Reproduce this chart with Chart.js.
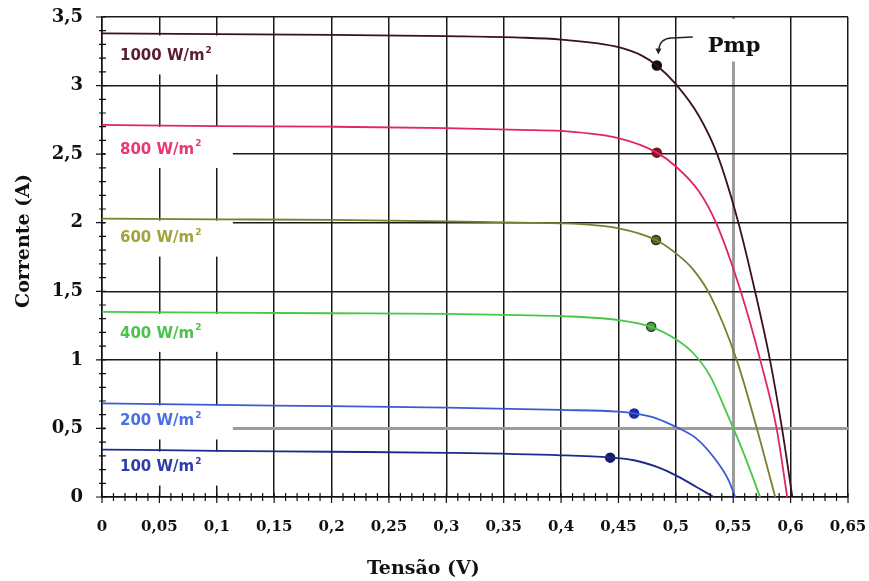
<!DOCTYPE html>
<html>
<head>
<meta charset="utf-8">
<title>Curvas I-V</title>
<script src="https://cdn.jsdelivr.net/npm/chart.js"></script>
<style>
    body { margin: 0; background: #fff; }
    #box { width: 869px; height: 581px; }
</style>
</head>
<body>
<div id="box"><canvas id="grafico"></canvas></div>
<script>
// curvas corrente x tensão do módulo para cada irradiância
var irradiancias = ['1000', '800', '600', '400', '200', '100'];

var tensao1000 = [0, 0.1, 0.2, 0.3, 0.364, 0.4, 0.45, 0.47, 0.4834, 0.5, 0.52, 0.536, 0.5545, 0.569, 0.582, 0.5925, 0.6015];
var corrente1000 = [3.38, 3.375, 3.37, 3.36, 3.35, 3.335, 3.28, 3.22, 3.146, 3.01, 2.78, 2.5, 2.0, 1.5, 1.0, 0.5, 0];

var tensao800 = [0, 0.1, 0.2, 0.3, 0.364, 0.4, 0.45, 0.4834, 0.5, 0.52, 0.535, 0.5565, 0.5735, 0.5878, 0.597];
var corrente800 = [2.713, 2.705, 2.7, 2.69, 2.677, 2.669, 2.616, 2.511, 2.41, 2.23, 2.0, 1.5, 1.0, 0.5, 0];

var tensao600 = [0, 0.1, 0.2, 0.3, 0.364, 0.4, 0.45, 0.4827, 0.5, 0.515, 0.53, 0.553, 0.5706, 0.5866];
var corrente600 = [2.03, 2.025, 2.02, 2.01, 2.0, 1.996, 1.959, 1.874, 1.777, 1.66, 1.47, 1.0, 0.5, 0];

var tensao400 = [0, 0.1, 0.2, 0.3, 0.364, 0.4, 0.45, 0.4785, 0.5, 0.515, 0.53, 0.545, 0.56, 0.5734];
var corrente400 = [1.35, 1.345, 1.34, 1.335, 1.326, 1.319, 1.29, 1.241, 1.15, 1.05, 0.88, 0.6, 0.3, 0];

var tensao200 = [0, 0.1, 0.2, 0.3, 0.4, 0.45, 0.4637, 0.4835, 0.5, 0.518, 0.535, 0.546, 0.5517];
var corrente200 = [0.682, 0.672, 0.662, 0.652, 0.635, 0.622, 0.609, 0.572, 0.511, 0.426, 0.268, 0.122, 0];

var tensao100 = [0, 0.1, 0.2, 0.3, 0.4, 0.4428, 0.4635, 0.4835, 0.5, 0.518, 0.533];
var corrente100 = [0.346, 0.337, 0.33, 0.322, 0.304, 0.287, 0.268, 0.219, 0.158, 0.073, 0];

// ponto de máxima potência de cada curva
var pmpTensao = [0.4834, 0.4834, 0.4827, 0.4785, 0.4637, 0.4428];
var pmpCorrente = [3.146, 2.511, 1.874, 1.241, 0.609, 0.287];

var curvas = [
    [tensao1000, corrente1000],
    [tensao800, corrente800],
    [tensao600, corrente600],
    [tensao400, corrente400],
    [tensao200, corrente200],
    [tensao100, corrente100]
];

var coresCurvas = ['#3d0f22', '#e2255f', '#7d7d2e', '#45c845', '#3a5bd2', '#1c2a8c'];
var coresRotulos = ['#5c1b35', '#e8386f', '#a3a33b', '#4cc24c', '#4d6fe2', '#2e3ca9'];
var coresPmp = ['#140810', '#8e1426', '#4d6a2a', '#5a9a4a', '#1a2ca6', '#141c6a'];
var bordasPmp = ['#140810', '#6a0e1c', '#1f3a14', '#1f4a1f', '#1a2ca6', '#141c6a'];
var deslocRotulos = [23, 25, 20, 22, 18, 18];

var datasets = [];
for (var i = 0; i < curvas.length; i++) {
    var pontos = [];
    for (var j = 0; j < curvas[i][0].length; j++) {
        pontos.push({ x: curvas[i][0][j], y: curvas[i][1][j] });
    }
    datasets.push({
        label: irradiancias[i] + ' W/m²',
        data: pontos,
        borderColor: coresCurvas[i],
        borderWidth: 1.8,
        pointRadius: 0,
        cubicInterpolationMode: 'monotone',
        fill: false
    });
}

var pontosPmp = [];
for (var k = 0; k < pmpTensao.length; k++) {
    pontosPmp.push({ x: pmpTensao[k], y: pmpCorrente[k] });
}
datasets.push({
    type: 'scatter',
    label: 'Pmp',
    data: pontosPmp,
    showLine: false,
    pointRadius: 4.5,
    pointBorderWidth: 1.5,
    pointBackgroundColor: coresPmp,
    pointBorderColor: bordasPmp
});

function virgula(v) {
    return String(v).replace('.', ',');
}

function corGrade(centesimos, cinza, passo) {
    if (centesimos === cinza) return '#9c9c9c';
    return centesimos % passo === 0 ? '#1a1a1a' : 'rgba(0,0,0,0)';
}

function larguraGrade(centesimos, cinza, passo) {
    if (centesimos === cinza) return 3;
    return centesimos % passo === 0 ? 1.5 : 0;
}

var fonteEixo = "'DejaVu Serif', serif";

// caixas brancas atrás dos rótulos, marcas dos eixos, textos e seta do Pmp
var extras = {
    id: 'extras',
    beforeDatasetsDraw: function (chart) {
        var c = chart.ctx, a = chart.chartArea, x = chart.scales.x, y = chart.scales.y;
        c.save();
        c.fillStyle = '#fff';
        for (var i = 0; i < curvas.length; i++) {
            var topo = y.getPixelForValue(curvas[i][1][0]);
            c.fillRect(a.left + 3, topo + 2, x.getPixelForValue(0.114) - a.left - 3, deslocRotulos[i] + 16);
        }
        var px = x.getPixelForValue(pmpTensao[0]), py = y.getPixelForValue(pmpCorrente[0]);
        c.fillRect(px + 42, a.top + 2, 76, py - a.top - 6);
        c.restore();
    },
    afterDatasetsDraw: function (chart) {
        var c = chart.ctx, a = chart.chartArea, x = chart.scales.x, y = chart.scales.y;
        c.save();

        // marcas menores cruzando os eixos
        c.strokeStyle = '#111';
        c.lineWidth = 1.2;
        c.beginPath();
        x.ticks.forEach(function (t) {
            var p = x.getPixelForValue(t.value);
            var maior = Math.round(t.value * 100) % 5 === 0;
            c.moveTo(p, a.bottom - 4);
            c.lineTo(p, a.bottom + (maior ? 6 : 4));
        });
        y.ticks.forEach(function (t) {
            var p = y.getPixelForValue(t.value);
            var maior = Math.round(t.value * 10) % 5 === 0;
            c.moveTo(a.left - (maior ? 6 : 3), p);
            c.lineTo(a.left + 4, p);
        });
        c.stroke();

        // rótulos de irradiância
        c.textBaseline = 'middle';
        c.textAlign = 'left';
        for (var i = 0; i < curvas.length; i++) {
            var ty = y.getPixelForValue(curvas[i][1][0]) + deslocRotulos[i];
            var tx = a.left + 18;
            var texto = irradiancias[i] + ' W/m';
            c.fillStyle = coresRotulos[i];
            c.font = "bold 15px 'DejaVu Sans', sans-serif";
            c.fillText(texto, tx, ty);
            var w = c.measureText(texto).width;
            c.font = "bold 9px 'DejaVu Sans', sans-serif";
            c.fillText('2', tx + w + 1, ty - 6);
        }

        // indicação do ponto de máxima potência
        var px = x.getPixelForValue(pmpTensao[0]), py = y.getPixelForValue(pmpCorrente[0]);
        c.strokeStyle = '#222';
        c.lineWidth = 1.4;
        c.beginPath();
        c.moveTo(px + 36, py - 28.5);
        c.lineTo(px + 15, py - 27.5);
        c.quadraticCurveTo(px + 3, py - 27, px + 2, py - 16);
        c.stroke();
        c.fillStyle = '#222';
        c.beginPath();
        c.moveTo(px + 1.6, py - 11);
        c.lineTo(px - 1.4, py - 17);
        c.lineTo(px + 4.6, py - 17);
        c.closePath();
        c.fill();

        c.fillStyle = '#111';
        c.textBaseline = 'alphabetic';
        c.font = 'bold 21px ' + fonteEixo;
        c.fillText('Pmp', px + 51, py - 13.5);

        // títulos dos eixos
        c.textAlign = 'center';
        c.textBaseline = 'middle';
        c.font = 'bold 19px ' + fonteEixo;
        c.fillText('Tensão (V)', x.getPixelForValue(0.28), a.bottom + 72);
        c.translate(a.left - 78, a.top + 224);
        c.rotate(-Math.PI / 2);
        c.fillText('Corrente (A)', 0, 0);

        c.restore();
    }
};

var chart = new Chart(document.getElementById('grafico'), {
    type: 'line',
    data: { datasets: datasets },
    options: {
        responsive: true,
        maintainAspectRatio: false,
        animation: false,
        layout: { padding: { left: 2, right: 21, top: 17, bottom: 0 } },
        plugins: {
            legend: { display: false },
            tooltip: { enabled: false }
        },
        scales: {
            x: {
                type: 'linear',
                min: 0,
                max: 0.65,
                afterFit: function (s) {
                    s.height = 84;
                    s.paddingLeft = 0;
                    s.paddingRight = 0;
                },
                ticks: {
                    stepSize: 0.01,
                    autoSkip: false,
                    maxRotation: 0,
                    minRotation: 0,
                    padding: 21,
                    color: '#111',
                    font: { family: fonteEixo, weight: 'bold', size: 15 },
                    callback: function (v) {
                        var c = Math.round(v * 100);
                        return c % 5 === 0 ? virgula(c / 100) : '';
                    }
                },
                grid: {
                    drawTicks: false,
                    color: function (ctx) {
                        if (!ctx.tick) return '#1a1a1a';
                        return corGrade(Math.round(ctx.tick.value * 100), 55, 5);
                    },
                    lineWidth: function (ctx) {
                        if (!ctx.tick) return 1.5;
                        return larguraGrade(Math.round(ctx.tick.value * 100), 55, 5);
                    }
                },
                border: { display: true, color: '#111', width: 1.5 }
            },
            y: {
                type: 'linear',
                min: 0,
                max: 3.5,
                afterFit: function (s) {
                    s.width = 100;
                    s.paddingTop = 0;
                    s.paddingBottom = 0;
                },
                ticks: {
                    stepSize: 0.1,
                    autoSkip: false,
                    padding: 19,
                    color: '#111',
                    font: { family: fonteEixo, weight: 'bold', size: 18 },
                    callback: function (v) {
                        var c = Math.round(v * 10);
                        return c % 5 === 0 ? virgula(c / 10) : '';
                    }
                },
                grid: {
                    drawTicks: false,
                    color: function (ctx) {
                        if (!ctx.tick) return '#1a1a1a';
                        return corGrade(Math.round(ctx.tick.value * 10), 5, 5);
                    },
                    lineWidth: function (ctx) {
                        if (!ctx.tick) return 1.5;
                        return larguraGrade(Math.round(ctx.tick.value * 10), 5, 5);
                    }
                },
                border: { display: true, color: '#111', width: 1.5 }
            }
        }
    },
    plugins: [extras]
});
</script>
</body>
</html>
